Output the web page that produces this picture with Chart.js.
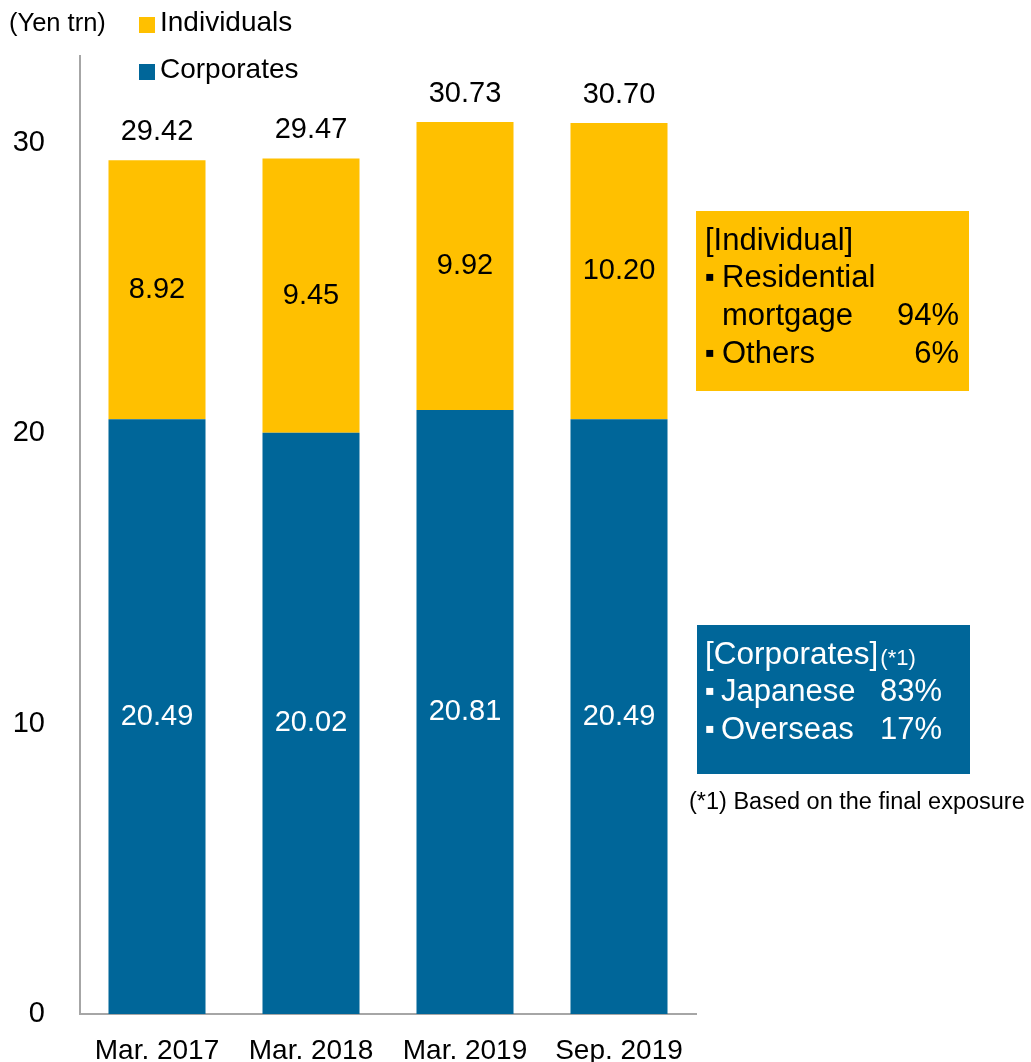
<!DOCTYPE html>
<html>
<head>
<meta charset="utf-8">
<script src="https://cdn.jsdelivr.net/npm/chart.js@4.4.1/dist/chart.umd.min.js"></script>
<style>
  html, body { margin: 0; padding: 0; background: #fff; }
  #wrap { width: 1031px; height: 1062px; position: relative; }
</style>
</head>
<body>
<div id="wrap"><canvas id="myChart" width="1031" height="1062"></canvas></div>
<script>
// data
const categories = ["Mar. 2017", "Mar. 2018", "Mar. 2019", "Sep. 2019"];
const corporates = [20.49, 20.02, 20.81, 20.49];
const individuals = [8.92, 9.45, 9.92, 10.20];
const totals = ["29.42", "29.47", "30.73", "30.70"];
const yTicks = [0, 10, 20, 30];

const GOLD = "#FFC000";
const BLUE = "#006699";
const FONT = "'Liberation Sans', Arial, sans-serif";

// value labels, legend and side notes
const labelsPlugin = {
  id: "labels",
  afterDatasetsDraw(chart) {
    const ctx = chart.ctx;
    ctx.save();
    ctx.textAlign = "center";
    ctx.textBaseline = "middle";
    ctx.font = "29px " + FONT;

    chart.data.datasets.forEach((ds, i) => {
      const meta = chart.getDatasetMeta(i);
      meta.data.forEach((bar, j) => {
        const mid = (bar.y + bar.base) / 2;
        ctx.fillStyle = i === 0 ? "#ffffff" : "#000000";
        ctx.fillText(ds.data[j].toFixed(2), bar.x, mid);
      });
    });

    // totals above the stacks
    const top = chart.getDatasetMeta(1);
    ctx.fillStyle = "#000";
    top.data.forEach((bar, j) => {
      ctx.fillText(totals[j], bar.x, bar.y - 28);
    });

    // unit + legend
    ctx.textAlign = "left";
    ctx.font = "25.5px " + FONT;
    ctx.fillText("(Yen trn)", 9, 24);
    ctx.font = "28px " + FONT;
    const leg = [chart.data.datasets[1], chart.data.datasets[0]];
    leg.forEach((ds, k) => {
      const y = 24 + k * 47;
      ctx.fillStyle = ds.backgroundColor;
      ctx.fillRect(139, y - 7, 16, 16);
      ctx.fillStyle = "#000";
      ctx.fillText(ds.label, 160, y - 1);
    });

    // [Individual] box
    ctx.fillStyle = GOLD;
    ctx.fillRect(696, 211, 273, 180);
    ctx.fillStyle = "#000";
    ctx.font = "31px " + FONT;
    ctx.fillText("[Individual]", 705, 241);
    ctx.font = "28px " + FONT;
    ctx.fillText("▪", 705, 278);
    ctx.fillText("▪", 705, 354);
    ctx.font = "31px " + FONT;
    ctx.fillText("Residential", 722, 278);
    ctx.fillText("mortgage", 722, 316);
    ctx.fillText("Others", 722, 354);
    ctx.textAlign = "right";
    ctx.fillText("94%", 959, 316);
    ctx.fillText("6%", 959, 354);

    // [Corporates] box
    ctx.fillStyle = BLUE;
    ctx.fillRect(697, 625, 273, 149);
    ctx.fillStyle = "#fff";
    ctx.textAlign = "left";
    ctx.font = "31.5px " + FONT;
    ctx.fillText("[Corporates]", 705, 655);
    const w = ctx.measureText("[Corporates]").width;
    ctx.font = "22px " + FONT;
    ctx.fillText("(*1)", 707 + w, 659);
    ctx.font = "28px " + FONT;
    ctx.fillText("▪", 705, 692);
    ctx.fillText("▪", 705, 730);
    ctx.font = "31px " + FONT;
    ctx.fillText("Japanese", 721, 692);
    ctx.fillText("83%", 880, 692);
    ctx.fillText("Overseas", 721, 730);
    ctx.fillText("17%", 880, 730);

    // footnote
    ctx.fillStyle = "#000";
    ctx.font = "23.5px " + FONT;
    ctx.fillText("(*1) Based on the final exposure", 689, 803);
    ctx.restore();
  }
};

const ctx = document.getElementById("myChart").getContext("2d");

const myChart = new Chart(ctx, {
  type: "bar",
  data: {
    labels: categories,
    datasets: [
      {
        label: "Corporates",
        data: corporates,
        backgroundColor: BLUE,
        barPercentage: 0.63,
        categoryPercentage: 1
      },
      {
        label: "Individuals",
        data: individuals,
        backgroundColor: GOLD,
        barPercentage: 0.63,
        categoryPercentage: 1
      }
    ]
  },
  options: {
    responsive: false,
    animation: false,
    devicePixelRatio: 1,
    layout: { padding: { left: 0, right: 335, top: 56, bottom: 0 } },
    plugins: {
      legend: { display: false },
      tooltip: { enabled: false }
    },
    scales: {
      x: {
        stacked: true,
        grid: { display: false, drawTicks: false },
        border: { display: true, color: "#a6a6a6", width: 2 },
        ticks: {
          color: "#000",
          font: { family: FONT, size: 28 },
          padding: 20,
          maxRotation: 0
        },
        afterFit(scale) { scale.height = 48; }
      },
      y: {
        stacked: true,
        min: 0,
        max: 33,
        grid: { display: false, drawTicks: false },
        border: { display: true, color: "#a6a6a6", width: 2 },
        ticks: {
          color: "#000",
          font: { family: FONT, size: 29 },
          padding: 35
        },
        afterBuildTicks(scale) {
          scale.ticks = yTicks.map(v => ({ value: v }));
        },
        afterFit(scale) {
          scale.width = 80;
          // tick padding would otherwise push the plot up
          scale.paddingTop = 0;
          scale.paddingBottom = 0;
        }
      }
    }
  },
  plugins: [labelsPlugin]
});
</script>
</body>
</html>
